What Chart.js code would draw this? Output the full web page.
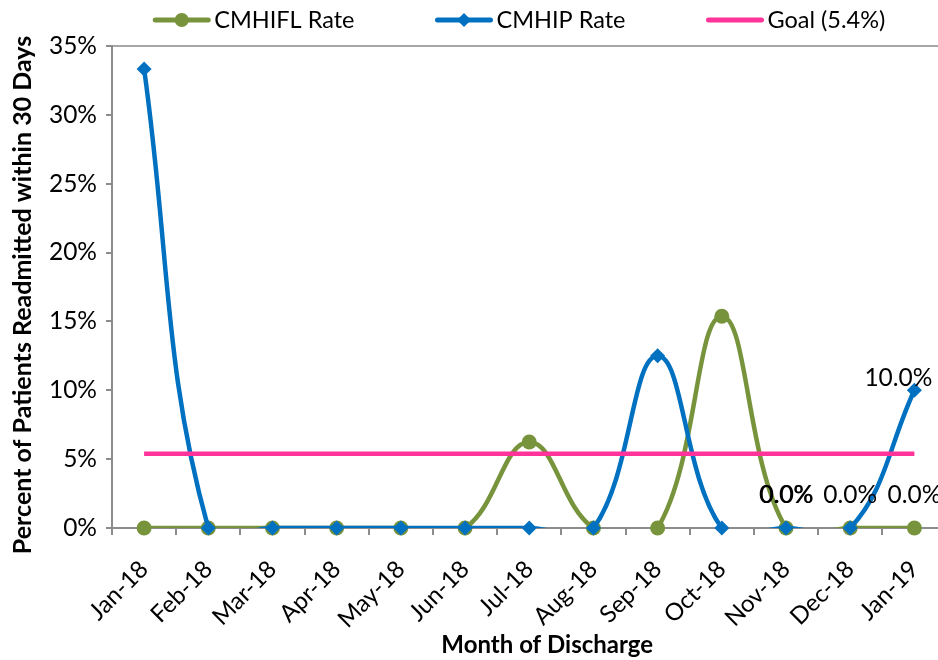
<!DOCTYPE html>
<html>
<head>
<meta charset="utf-8">
<script src="https://cdn.jsdelivr.net/npm/chart.js@4.4.1/dist/chart.umd.min.js"></script>
<style>
  html, body { margin: 0; padding: 0; background: #ffffff; overflow: hidden; width: 938px; height: 660px; }
  /* the plot area runs a few pixels past the right edge of the frame */
  #wrap { position: relative; width: 938px; height: 660px; overflow: hidden; }
  #wrap canvas { position: absolute; left: 0; top: 0; }
</style>
</head>
<body>
<div id="wrap"><canvas id="chart" width="954" height="660"></canvas></div>
<script>
// Monthly 30-day readmission rates (%)
const months = ['Jan-18', 'Feb-18', 'Mar-18', 'Apr-18', 'May-18', 'Jun-18', 'Jul-18',
                'Aug-18', 'Sep-18', 'Oct-18', 'Nov-18', 'Dec-18', 'Jan-19'];
const cmhiflRate = [0, 0, 0, 0, 0, 0, 6.25, 0, 0, 15.38, 0, 0, 0];
const cmhipRate  = [33.33, 0, 0, 0, 0, 0, 0, 0, 12.5, 0, 0, 0, 10.0];
const goalRate   = [5.4, 5.4, 5.4, 5.4, 5.4, 5.4, 5.4, 5.4, 5.4, 5.4, 5.4, 5.4, 5.4];
const yTickValues = [0, 5, 10, 15, 20, 25, 30, 35];

const FONT = 'Lato, "Open Sans", "DejaVu Sans", sans-serif';
const GREEN = '#77933C';
const BLUE = '#0070C0';
const PINK = '#FF3399';
const AXIS = '#8C8C8C';

// Value labels shown next to selected points (series label, month index, offset)
const valueLabels = [
  { series: 'CMHIP Rate',  index: 10, dx: 0,   dy: -25 },
  { series: 'CMHIFL Rate', index: 10, dx: 0.6, dy: -25 },
  { series: 'CMHIP Rate',  index: 11, dx: 0,   dy: -25 },
  { series: 'CMHIFL Rate', index: 12, dx: 0,   dy: -25 },
  { series: 'CMHIP Rate',  index: 12, dx: -16, dy: -4 }
];

// Key entries: line sample with the series marker in the middle
const keyEntries = [
  { series: 'CMHIFL Rate', color: GREEN, marker: 'circle' },
  { series: 'CMHIP Rate',  color: BLUE,  marker: 'diamond' },
  { series: 'Goal (5.4%)', color: PINK,  marker: null }
];

function drawMarker(ctx, kind, x, y, r, color) {
  ctx.save();
  ctx.fillStyle = color;
  ctx.beginPath();
  if (kind === 'circle') {
    ctx.arc(x, y, r, 0, Math.PI * 2);
  } else if (kind === 'diamond') {
    ctx.moveTo(x - r, y); ctx.lineTo(x, y - r); ctx.lineTo(x + r, y); ctx.lineTo(x, y + r);
    ctx.closePath();
  }
  ctx.fill();
  ctx.restore();
}

const seriesKeyPlugin = {
  id: 'seriesKey',
  afterDraw(chart) {
    const ctx = chart.ctx;
    const lineLen = 57, textGap = 4, itemGap = 81;
    ctx.save();
    ctx.font = '23.5px ' + FONT;
    const widths = keyEntries.map(e => ctx.measureText(e.series).width);
    const total = widths.reduce((a, w) => a + lineLen + textGap + w, 0) + itemGap * (keyEntries.length - 1);
    const ca = chart.chartArea;
    let x = (ca.left + ca.right) / 2 - 10 - total / 2;
    const yMid = 20;
    keyEntries.forEach((e, i) => {
      ctx.strokeStyle = e.color;
      ctx.lineWidth = 5;
      ctx.lineCap = 'round';
      ctx.beginPath();
      ctx.moveTo(x + 2, yMid); ctx.lineTo(x + lineLen - 2, yMid);
      ctx.stroke();
      if (e.marker) drawMarker(ctx, e.marker, x + lineLen / 2, yMid, 7, e.color);
      ctx.fillStyle = '#000';
      ctx.textAlign = 'left';
      ctx.textBaseline = 'alphabetic';
      ctx.fillText(e.series, x + lineLen + textGap, 28);
      x += lineLen + textGap + widths[i] + itemGap;
    });
    ctx.restore();
  }
};

const valueLabelPlugin = {
  id: 'valueLabels',
  afterDatasetsDraw(chart) {
    const ctx = chart.ctx;
    ctx.save();
    ctx.font = '24.5px ' + FONT;
    ctx.fillStyle = '#000';
    ctx.textAlign = 'center';
    ctx.textBaseline = 'alphabetic';
    valueLabels.forEach(l => {
      const di = chart.data.datasets.findIndex(d => d.label === l.series);
      const pt = chart.getDatasetMeta(di).data[l.index];
      const v = chart.data.datasets[di].data[l.index];
      ctx.fillText(v.toFixed(1) + '%', pt.x + l.dx, pt.y + l.dy);
    });
    ctx.restore();
  }
};

// Axis titles
const axisTitlePlugin = {
  id: 'axisTitles',
  afterDraw(chart) {
    const ctx = chart.ctx;
    const ca = chart.chartArea;
    ctx.save();
    ctx.fillStyle = '#000';
    ctx.textAlign = 'center';
    ctx.textBaseline = 'alphabetic';
    ctx.font = 'bold 24px ' + FONT;
    ctx.fillText('Month of Discharge', (ca.left + ca.right) / 2 + 18, 653);
    ctx.font = 'bold 25px ' + FONT;
    ctx.translate(31, (ca.top + ca.bottom) / 2 + 8);
    ctx.rotate(-Math.PI / 2);
    ctx.fillText('Percent of Patients Readmitted within 30 Days', 0, 0);
    ctx.restore();
  }
};

function build() {
  const lineCommon = { fill: false, tension: 0.4, capBezierPoints: false, borderWidth: 4.5, pointRadius: 0 };
  new Chart(document.getElementById('chart'), {
    type: 'line',
    data: {
      labels: months,
      datasets: [
        Object.assign({ label: 'CMHIFL Rate', data: cmhiflRate, borderColor: GREEN, order: 4 }, lineCommon),
        { label: 'CMHIFL Rate markers', data: cmhiflRate, showLine: false, pointStyle: 'circle',
          pointRadius: 7.5, pointBackgroundColor: GREEN, pointBorderWidth: 0, clip: false, order: 3 },
        Object.assign({ label: 'CMHIP Rate', data: cmhipRate, borderColor: BLUE, order: 2 }, lineCommon),
        { label: 'CMHIP Rate markers', data: cmhipRate, showLine: false, pointStyle: 'rectRot',
          pointRadius: 7.5, pointBackgroundColor: BLUE, pointBorderWidth: 0, clip: false, order: 1 },
        Object.assign({ label: 'Goal (5.4%)', data: goalRate, borderColor: PINK, order: 0 }, lineCommon)
      ]
    },
    options: {
      responsive: false,
      animation: false,
      events: [],
      layout: { padding: { top: 46, right: 1, bottom: 0, left: 0 } },
      plugins: { legend: { display: false }, tooltip: { enabled: false } },
      scales: {
        x: {
          type: 'category',
          offset: true,
          grid: { display: true, offset: true, drawOnChartArea: false, tickLength: 7, color: AXIS, lineWidth: 2 },
          border: { display: true, color: AXIS, width: 2 },
          ticks: { autoSkip: false, maxRotation: 45, minRotation: 45, padding: 20, color: '#000',
                   font: { family: FONT, size: 24 } },
          afterFit(s) { s.height = 132; s.paddingLeft = 0; s.paddingRight = 0; }
        },
        y: {
          min: 0, max: 35,
          afterBuildTicks(s) { s.ticks = yTickValues.map(v => ({ value: v })); },
          ticks: { padding: 9, color: '#000', font: { family: FONT, size: 24.5 }, callback: v => v + '%' },
          grid: {
            drawOnChartArea: true, tickLength: 6, lineWidth: 2, tickColor: AXIS,
            color: c => (c.tick && c.tick.value === 35) ? '#A6A6A6' : 'rgba(0,0,0,0)'
          },
          border: { display: true, color: AXIS, width: 2 },
          afterFit(s) { s.width = 112; s.paddingTop = 0; s.paddingBottom = 0; }
        }
      }
    },
    plugins: [seriesKeyPlugin, valueLabelPlugin, axisTitlePlugin]
  });
}

if (document.fonts && document.fonts.load) {
  Promise.all([document.fonts.load('23px Lato'), document.fonts.load('bold 22px Lato')])
    .then(build, build);
} else {
  build();
}
</script>
</body>
</html>
